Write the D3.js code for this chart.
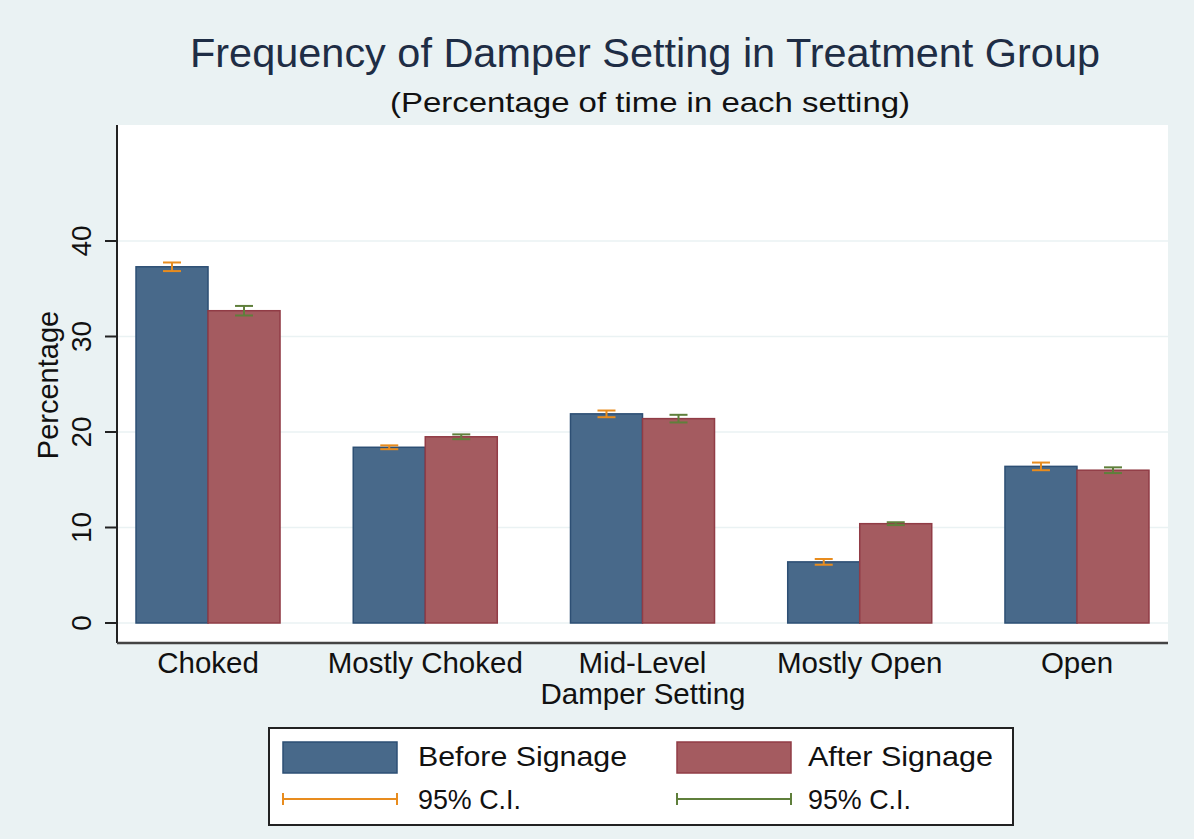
<!DOCTYPE html>
<html><head><meta charset="utf-8">
<script src="https://cdn.jsdelivr.net/npm/d3@7"></script>
<style>body{margin:0;background:#eaf2f3;} svg{display:block;font-family:"Liberation Sans",Arial,sans-serif;}</style>
</head><body>
<script>
const categories = ["Choked","Mostly Choked","Mid-Level","Mostly Open","Open"];
const series = ["Before Signage","After Signage"];
const beforeValues = [37.3, 18.4, 21.9, 6.4, 16.4];
const beforeCI = [0.45, 0.2, 0.35, 0.3, 0.4];
const afterValues = [32.7, 19.5, 21.4, 10.4, 16.0];
const afterCI = [0.5, 0.25, 0.4, 0.15, 0.3];
const yTicks = [0,10,20,30,40];

const W=1194,H=839;
const svg=d3.select("body").append("svg").attr("width",W).attr("height",H);
svg.append("rect").attr("width",W).attr("height",H).attr("fill","#eaf2f3");

const pl=117,pr=1168,pt=125,pb=643;
svg.append("rect").attr("x",pl).attr("y",pt).attr("width",pr-pl).attr("height",pb-pt).attr("fill","#ffffff");

const y=d3.scaleLinear().domain([0,10]).range([623,527.5]);
const x=d3.scaleBand().domain(categories).range([pl,pr]).paddingInner(0.337).paddingOuter(0.0875);
const xs=d3.scaleBand().domain(series).range([0,x.bandwidth()]);

svg.append("g").selectAll("line").data(yTicks).join("line")
 .attr("x1",pl).attr("x2",pr).attr("y1",d=>y(d)).attr("y2",d=>y(d))
 .attr("stroke","#eaf2f3").attr("stroke-width",1.5);

const colors={"Before Signage":{fill:"#48698a",stroke:"#2d4f74",ci:"#e88c1e"},
              "After Signage":{fill:"#a45b60",stroke:"#913c46",ci:"#5f7f3b"}};
const data=[];
categories.forEach((c,i)=>{
  data.push({c,s:series[0],v:beforeValues[i],e:beforeCI[i]});
  data.push({c,s:series[1],v:afterValues[i],e:afterCI[i]});
});
svg.append("g").selectAll("rect").data(data).join("rect")
 .attr("x",d=>x(d.c)+xs(d.s)).attr("width",xs.bandwidth())
 .attr("y",d=>y(d.v)).attr("height",d=>y(0)-y(d.v))
 .attr("fill",d=>colors[d.s].fill).attr("stroke",d=>colors[d.s].stroke).attr("stroke-width",1.5);

const ci=svg.append("g");
data.forEach(d=>{
  const cx=x(d.c)+xs(d.s)+xs.bandwidth()/2, col=colors[d.s].ci;
  const y1=y(d.v+d.e), y2=y(d.v-d.e);
  ci.append("line").attr("x1",cx).attr("x2",cx).attr("y1",y1).attr("y2",y2).attr("stroke",col).attr("stroke-width",2);
  [y1,y2].forEach(yy=>ci.append("line").attr("x1",cx-9).attr("x2",cx+9).attr("y1",yy).attr("y2",yy).attr("stroke",col).attr("stroke-width",2));
});

const ya=svg.append("g");
ya.append("line").attr("x1",pl).attr("x2",pl).attr("y1",pt).attr("y2",pb).attr("stroke","#222").attr("stroke-width",2);
yTicks.forEach(t=>{
  ya.append("line").attr("x1",pl-12).attr("x2",pl).attr("y1",y(t)).attr("y2",y(t)).attr("stroke","#222").attr("stroke-width",2);
  ya.append("text").attr("transform",`translate(91,${y(t)}) rotate(-90)`).attr("text-anchor","middle")
   .attr("font-size",28).attr("fill","#111").text(t);
});
svg.append("line").attr("x1",pl).attr("x2",pr).attr("y1",pb).attr("y2",pb).attr("stroke","#444").attr("stroke-width",2.5);

svg.append("g").selectAll("text").data(categories).join("text")
 .attr("x",d=>x(d)+x.bandwidth()/2).attr("y",673).attr("text-anchor","middle")
 .attr("font-size",29.5).attr("fill","#111").text(d=>d);

svg.append("text").attr("x",643).attr("y",704).attr("text-anchor","middle").attr("font-size",29.5)
 .attr("fill","#111").text("Damper Setting");
svg.append("text").attr("transform","translate(58,385) rotate(-90)").attr("text-anchor","middle").attr("font-size",29).attr("fill","#111").text("Percentage");

svg.append("text").attr("x",645).attr("y",67).attr("text-anchor","middle").attr("font-size",41)
 .attr("textLength",910).attr("lengthAdjust","spacingAndGlyphs").attr("fill","#1e2d45").text("Frequency of Damper Setting in Treatment Group");
svg.append("text").attr("x",650).attr("y",112).attr("text-anchor","middle").attr("font-size",28)
 .attr("textLength",520).attr("lengthAdjust","spacingAndGlyphs").attr("fill","#111").text("(Percentage of time in each setting)");

const lg=svg.append("g");
lg.append("rect").attr("x",269).attr("y",728).attr("width",744).attr("height",97).attr("fill","#fff").attr("stroke","#222").attr("stroke-width",2);
const lx=[283,677], tx=[418,808], tw=[209,185];
series.forEach((s,i)=>{
  lg.append("rect").attr("x",lx[i]).attr("y",742).attr("width",114).attr("height",31)
    .attr("fill",colors[s].fill).attr("stroke",colors[s].stroke).attr("stroke-width",1.5);
  lg.append("text").attr("x",tx[i]).attr("y",766).attr("font-size",28).attr("textLength",tw[i]).attr("lengthAdjust","spacingAndGlyphs").attr("fill","#111").text(s);
  const c=colors[s].ci;
  lg.append("line").attr("x1",lx[i]).attr("x2",lx[i]+114).attr("y1",799).attr("y2",799).attr("stroke",c).attr("stroke-width",2);
  [lx[i],lx[i]+114].forEach(xx=>lg.append("line").attr("x1",xx).attr("x2",xx).attr("y1",793).attr("y2",805).attr("stroke",c).attr("stroke-width",2));
  lg.append("text").attr("x",tx[i]).attr("y",809).attr("font-size",28).attr("textLength",103).attr("lengthAdjust","spacingAndGlyphs").attr("fill","#111").text("95% C.I.");
});
</script>
</body></html>
